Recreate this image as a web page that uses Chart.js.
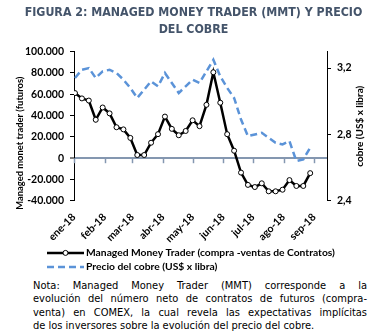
<!DOCTYPE html>
<html>
<head>
<meta charset="utf-8">
<script src="https://cdn.jsdelivr.net/npm/chart.js@4.4.0/dist/chart.umd.min.js"></script>
<style>
  body { margin: 0; background: #fff; }
  #wrap { position: relative; width: 373px; height: 335px; }
  #nota {
    position: absolute; left: 33px; top: 279px; width: 334px;
    font: 11px "DejaVu Sans Condensed", "DejaVu Sans", sans-serif;
    line-height: 13.4px; color: #000;
  }
  #nota span { display: block; text-align: justify; text-align-last: justify; white-space: nowrap; }
  #nota span:last-child { text-align-last: left; }
</style>
</head>
<body>
<div id="wrap">
  <canvas id="chart" width="373" height="278"></canvas>
  <div id="nota"><span>Nota: Managed Money Trader (MMT) corresponde a la</span><span>evolución del número neto de contratos de futuros (compra-</span><span>venta) en COMEX, la cual revela las expectativas implícitas</span><span>de los inversores sobre la evolución del precio del cobre.</span></div>
</div>
<script>
// weekly COMEX dates (tuesdays)
const fechas = [
  '2018-01-02', '2018-01-09', '2018-01-16', '2018-01-23', '2018-01-30',
  '2018-02-06', '2018-02-13', '2018-02-20', '2018-02-27',
  '2018-03-06', '2018-03-13', '2018-03-20', '2018-03-27',
  '2018-04-03', '2018-04-10', '2018-04-17', '2018-04-24',
  '2018-05-01', '2018-05-08', '2018-05-15', '2018-05-22', '2018-05-29',
  '2018-06-05', '2018-06-12', '2018-06-19', '2018-06-26',
  '2018-07-03', '2018-07-10', '2018-07-17', '2018-07-24', '2018-07-31',
  '2018-08-07', '2018-08-14', '2018-08-21', '2018-08-28',
];
const mmt = [
  61000, 56000, 54000, 36000, 47500, 42000, 29000, 27000, 19000,
  3000, 3000, 14500, 22500, 39000, 27500, 21500, 25500, 35500,
  30000, 50000, 80500, 52000, 22500, 7000, -13500, -25000,
  -27000, -23500, -31000, -31000, -29500, -20500, -26000, -26000, -14000,
];
const precio = [
  3.14, 3.19, 3.20, 3.14, 3.18, 3.19, 3.17, 3.13, 3.08,
  3.02, 3.07, 3.12, 3.09, 3.17, 3.11, 3.05, 3.09, 3.13,
  3.11, 3.18, 3.25, 3.15, 3.08, 3.02, 2.89, 2.79,
  2.80, 2.81, 2.78, 2.75, 2.74, 2.76, 2.64, 2.65, 2.72,
];
const meses = ['ene-18', 'feb-18', 'mar-18', 'abr-18', 'may-18', 'jun-18', 'jul-18', 'ago-18', 'sep-18'];
const inicioMes = ['2018-01-01', '2018-02-01', '2018-03-01', '2018-04-01', '2018-05-01', '2018-06-01', '2018-07-01', '2018-08-01', '2018-09-01'];
const precioTicks = [2.4, 2.8, 3.2];

const dia = d => (Date.parse(d) - Date.parse('2018-01-01')) / 864e5;
const miles = v => String(v).replace(/\B(?=(\d{3})+(?!\d))/g, '.');

Chart.defaults.font.family = 'Lato';
Chart.defaults.font.size = 10.5;
Chart.defaults.font.weight = 'bold';
Chart.defaults.color = '#000';

// small tick marks hanging from the zero line
const zeroTicks = {
  id: 'zeroTicks',
  afterDatasetsDraw(chart) {
    const { ctx, scales } = chart;
    const y0 = scales.y.getPixelForValue(0);
    ctx.save();
    ctx.strokeStyle = '#8497b0';
    ctx.lineWidth = 1.5;
    scales.x.ticks.forEach(t => {
      const px = Math.round(scales.x.getPixelForValue(t.value)) + 0.5;
      ctx.beginPath();
      ctx.moveTo(px, y0);
      ctx.lineTo(px, y0 + 5);
      ctx.stroke();
    });
    ctx.restore();
  },
};

// both axis titles read bottom to top, plus the legend block under the axis
const extras = {
  id: 'extras',
  afterDraw(chart) {
    const { ctx, chartArea } = chart;
    const midY = (chartArea.top + chartArea.bottom) / 2;
    const vertical = (text, x, y, size) => {
      ctx.save();
      ctx.font = `bold ${size}px Lato`;
      ctx.fillStyle = '#000';
      ctx.textAlign = 'center';
      ctx.textBaseline = 'middle';
      ctx.translate(x, y);
      ctx.rotate(-Math.PI / 2);
      ctx.fillText(text, 0, 0);
      ctx.restore();
    };
    vertical('Managed monet trader (futuros)', 20, midY + 17, 9.4);
    vertical('cobre (US$ x libra)', chart.width - 13, midY, 10);

    ctx.save();
    ctx.font = 'bold 10.3px Lato';
    ctx.textBaseline = 'middle';
    chart.data.datasets.forEach((ds, i) => {
      const y = chartArea.bottom + 52 + i * 14;
      ctx.strokeStyle = ds.borderColor;
      ctx.lineWidth = 2.5;
      ctx.setLineDash(ds.borderDash || []);
      ctx.beginPath();
      ctx.moveTo(47, y);
      ctx.lineTo(84, y);
      ctx.stroke();
      ctx.setLineDash([]);
      if (ds.pointRadius) {
        ctx.beginPath();
        ctx.arc(65.5, y, ds.pointRadius, 0, Math.PI * 2);
        ctx.fillStyle = ds.pointBackgroundColor;
        ctx.fill();
        ctx.lineWidth = 1;
        ctx.stroke();
      }
      ctx.fillStyle = '#000';
      ctx.fillText(ds.label, 86, y);
    });
    ctx.restore();
  },
};

new Chart(document.getElementById('chart'), {
  type: 'line',
  data: {
    datasets: [
      {
        label: 'Managed Money Trader (compra -ventas de Contratos)',
        data: fechas.map((f, i) => ({ x: dia(f), y: mmt[i] })),
        yAxisID: 'y',
        borderColor: '#000',
        borderWidth: 2.5,
        pointRadius: 2.5,
        pointBackgroundColor: '#fff',
        pointBorderColor: '#000',
        pointBorderWidth: 1,
      },
      {
        label: 'Precio del cobre (US$ x libra)',
        data: fechas.map((f, i) => ({ x: dia(f), y: precio[i] })),
        yAxisID: 'y1',
        borderColor: '#5b93d8',
        borderWidth: 2.5,
        borderDash: [7, 4],
        pointRadius: 0,
      },
    ],
  },
  options: {
    responsive: false,
    animation: false,
    layout: { padding: { left: 14, right: 0, top: 0, bottom: 31 } },
    plugins: {
      legend: { display: false },
      tooltip: { enabled: false },
      title: {
        display: true,
        text: ['FIGURA 2: MANAGED MONEY TRADER (MMT) Y PRECIO', 'DEL COBRE'],
        color: '#44546a',
        font: { family: '"DejaVu Sans Condensed", "DejaVu Sans"', size: 12.3, weight: 'bold', lineHeight: 1.4 },
        padding: { top: 4, bottom: 13 },
      },
    },
    scales: {
      x: {
        type: 'linear',
        min: 0,
        max: 256,
        afterBuildTicks: s => { s.ticks = inicioMes.map(d => ({ value: dia(d) })); },
        ticks: {
          callback: (v, i) => meses[i],
          autoSkip: false,
          maxRotation: 45,
          minRotation: 45,
          padding: 2,
        },
        grid: { display: false },
        border: { display: false },
      },
      y: {
        position: 'left',
        min: -40000,
        max: 100000,
        afterFit: s => { s.width = 60; },
        ticks: { stepSize: 20000, callback: v => miles(v), padding: 6 },
        grid: {
          color: c => (c.tick && c.tick.value === 0 ? '#8497b0' : 'transparent'),
          lineWidth: c => (c.tick && c.tick.value === 0 ? 2 : 1),
          tickColor: '#000',
          tickWidth: 1,
          tickLength: 4,
        },
        border: { color: '#000' },
      },
      y1: {
        position: 'right',
        min: 2.4,
        max: 3.3,
        afterFit: s => { s.width = 46; },
        afterBuildTicks: s => { s.ticks = precioTicks.map(v => ({ value: v })); },
        ticks: { callback: v => v.toFixed(1).replace('.', ','), padding: 6 },
        grid: { drawOnChartArea: false, tickColor: '#000', tickLength: 4 },
        border: { color: '#000' },
      },
    },
  },
  plugins: [zeroTicks, extras],
});
</script>
</body>
</html>
